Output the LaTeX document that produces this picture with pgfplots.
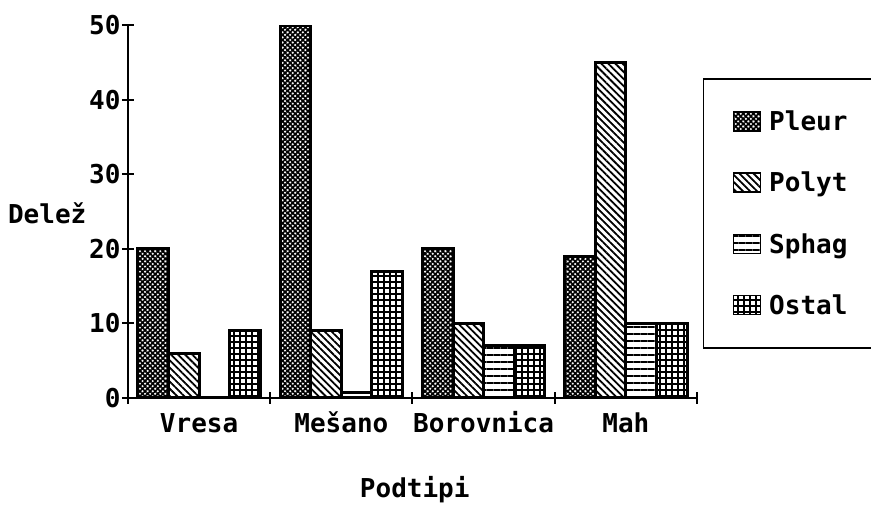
\documentclass[border=0pt]{standalone}
\usepackage{fontspec}
\setmainfont{DejaVu Sans Mono}[BoldFont={DejaVu Sans Mono Bold}]
\usepackage{pgfplots}
\usepackage{pgfplotstable}
\pgfplotsset{compat=1.18}
\usetikzlibrary{patterns.meta}

\pgfplotstableread{
x Pleur Polyt Sphag Ostal
1 20 6 0 9
2 50 9 0.8 17
3 20 10 7 7
4 19 45 10 10
}\data

\newcommand{\bigfont}{\bfseries\fontsize{26}{30}\selectfont}

\begin{document}
\begin{tikzpicture}
\path[use as bounding box] (-128pt,-118pt) rectangle (743pt,398pt);
\begin{axis}[
  scale only axis, width=569pt, height=373pt,
  xmin=0.5, xmax=4.5, ymin=0, ymax=50,
  axis lines=left,
  axis line style={-, line width=2.8pt},
  ybar=0pt, bar width=0.215,
  xtick={0.5,1.5,2.5,3.5,4.5}, xticklabels={,,,,,},
  extra x ticks={1,2,3,4},
  extra x tick labels={Vresa,Mešano,Borovnica,Mah},
  extra x tick style={major tick length=0pt},
  ytick={0,10,20,30,40,50},
  tick align=center,
  major tick length=12pt,
  tick style={line width=2pt, black},
  /pgf/number format/assume math mode=true,
  ticklabel style={font=\bigfont},
  xticklabel style={yshift=-12pt, text height=19pt, text depth=6pt},
  yticklabel style={xshift=2pt},
  ylabel={Delež},
  ylabel style={font=\bigfont, rotate=-90, at={(axis description cs:-0.142,0.496)}, anchor=center},
  xlabel={Podtipi},
  xlabel style={font=\bigfont, at={(axis description cs:0.504,-0.247)}, anchor=center},
  legend style={at={(axis description cs:1.0105,0.8579)}, anchor=north west,
    draw=black, line width=1.5pt, inner xsep=29pt, inner ysep=30pt,
    font=\bigfont, row sep=36pt, legend cell align=left},
  legend image code/.code={\draw[#1, line width=1.5pt] (0pt,-9.5pt) rectangle (27pt,9.5pt);},
]
\addplot[draw=black, line width=3pt,
  pattern={Lines[angle=45,distance=3.6pt,line width=1.7pt]},
  postaction={pattern={Lines[angle=-45,distance=3.6pt,line width=1.7pt]}}]
  table[x=x,y=Pleur]{\data};
\addlegendentry{\makebox[150pt][l]{\hspace{6pt}Pleur}}
\addplot[draw=black, line width=3pt,
  pattern={Lines[angle=-45,distance=5pt,line width=1.8pt]}]
  table[x=x,y=Polyt]{\data};
\addlegendentry{\makebox[150pt][l]{\hspace{6pt}Polyt}}
\addplot[draw=black, line width=3pt,
  pattern={Lines[angle=0,distance=7pt,line width=2.2pt]}]
  table[x=x,y=Sphag]{\data};
\addlegendentry{\makebox[150pt][l]{\hspace{6pt}Sphag}}
\addplot[draw=black, line width=3pt,
  pattern={Lines[angle=0,distance=6pt,line width=1.7pt]},
  postaction={pattern={Lines[angle=90,distance=6pt,line width=1.7pt]}}]
  table[x=x,y=Ostal]{\data};
\addlegendentry{\makebox[150pt][l]{\hspace{6pt}Ostal}}
\end{axis}
\end{tikzpicture}
\end{document}
